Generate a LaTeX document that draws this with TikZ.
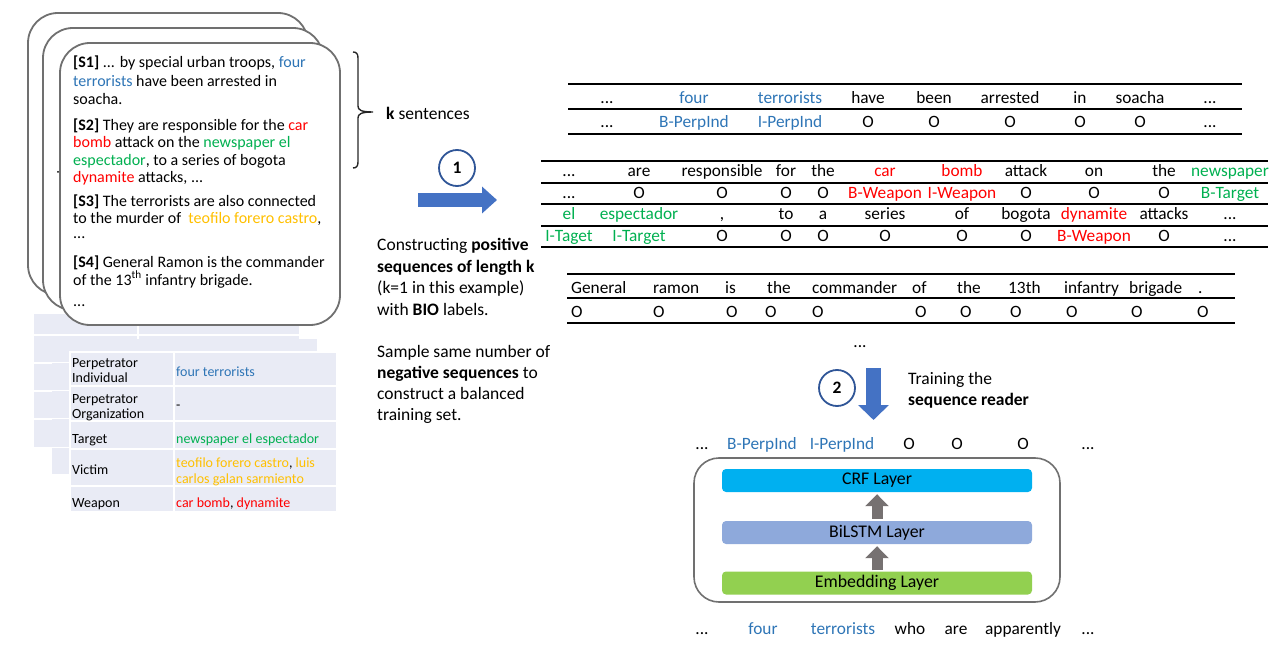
\documentclass[tikz,border=0pt]{standalone}
\usepackage{fontspec}
\setmainfont{Carlito}
\usetikzlibrary{arrows.meta}
\definecolor{tblue}{RGB}{46,117,182}
\definecolor{tred}{RGB}{255,0,0}
\definecolor{tgreen}{RGB}{0,176,80}
\definecolor{torange}{RGB}{255,192,0}
\definecolor{cellfill}{RGB}{233,235,245}
\definecolor{arrowblue}{RGB}{68,114,196}
\definecolor{circblue}{RGB}{47,85,151}
\definecolor{boxgray}{RGB}{112,112,112}
\definecolor{crfcol}{RGB}{0,176,240}
\definecolor{lstmcol}{RGB}{142,169,219}
\definecolor{embcol}{RGB}{146,208,80}
\definecolor{garrow}{RGB}{118,113,113}
\newcommand{\myblue}[1]{\textcolor{tblue}{#1}}
\newcommand{\myred}[1]{\textcolor{tred}{#1}}
\newcommand{\mygreen}[1]{\textcolor{tgreen}{#1}}
\newcommand{\myorange}[1]{\textcolor{torange}{#1}}
\newcommand{\tdots}{...}
\begin{document}
\begin{tikzpicture}[x=1pt,y=-1pt,
 doctext/.style={anchor=base west, inner sep=0pt, font=\fontsize{16}{18}\selectfont},
 tabtext/.style={anchor=base west, inner sep=0pt, font=\fontsize{14}{16}\selectfont},
 seqword/.style={anchor=base, inner sep=0pt, font=\fontsize{17.3}{20}\selectfont},
 seqleft/.style={anchor=base west, inner sep=0pt, font=\fontsize{17.3}{20}\selectfont},
 desc/.style={anchor=base west, inner sep=0pt, font=\fontsize{17.5}{21}\selectfont},
 thickrule/.style={line width=2.8pt},
 thinrule/.style={line width=1.2pt},
 docbox/.style={draw=boxgray, line width=1.8pt, fill=white, rounded corners=30pt},
 layerbox/.style={rounded corners=4pt, minimum width=310pt, minimum height=23pt, inner sep=0pt, font=\fontsize{17.8}{20}\selectfont},
 stepnum/.style={circle, draw=circblue, line width=1.8pt, fill=white, minimum size=36pt, inner sep=0pt, font=\bfseries\fontsize{17.5}{20}\selectfont},
 grayarrow/.style={draw=garrow, line width=11pt, -{Triangle[length=12pt,width=23pt]}, garrow},
]
\useasboundingbox (0,0) rectangle (1277,663);

% ---------- stacked tables (back to front)
\foreach \ya/\yb in {313/335,335/363,363/391,391/419,419/448}
  \foreach \xa/\xb in {33/138,138/300}
    \fill[cellfill] (\xa+1,\ya+1) rectangle (\xb-1,\yb-1);
\foreach \ya/\yb in {338/362,362/390,390/418,418/447,447/475}
  \foreach \xa/\xb in {51/156,156/318}
    \fill[cellfill] (\xa+1,\ya+1) rectangle (\xb-1,\yb-1);
\fill[white] (69,351) rectangle (338,513);
\foreach \ya/\yb in {352/386,386/421,421/449,449/486,486/512}
  \foreach \xa/\xb in {70/174,174/337}
    \fill[cellfill] (\xa+1,\ya+1) rectangle (\xb-1,\yb-1);

\node[tabtext] (p1a) at (72,367) {Perpetrator};
\node[tabtext] (p1b) at (72,382) {Individual};
\node[tabtext] (v1) at (176,376) {\myblue{four terrorists}};
\node[tabtext] (p2a) at (72,403) {Perpetrator};
\node[tabtext] (p2b) at (72,418) {Organization};
\node[tabtext] (v2) at (176,409) {-};
\node[tabtext] (p3) at (72,443) {Target};
\node[tabtext] (v3) at (176,443) {\mygreen{newspaper el espectador}};
\node[tabtext] (p4) at (72,474) {Victim};
\node[tabtext] (v4a) at (176,467) {\myorange{teofilo forero castro}, \myorange{luis}};
\node[tabtext] (v4b) at (176,483) {\myorange{carlos galan sarmiento}};
\node[tabtext] (p5) at (72,507) {Weapon};
\node[tabtext] (v5) at (176,507) {\myred{car bomb}, \myred{dynamite}};

% ---------- stacked documents
\draw[docbox] (28,13) rectangle (308,295);
\draw[docbox] (43,28) rectangle (323,310);
\fill[black] (58,172) circle (1pt);
\draw[docbox] (60,43) rectangle (340,325);

\node[doctext] (d1) at (73,68) {\textbf{[S1]} \tdots{} by special urban troops, \myblue{four}};
\node[doctext] (d2) at (73,87) {\myblue{terrorists} have been arrested in};
\node[doctext] (d3) at (73,105) {soacha.};
\node[doctext] (d4) at (73,131) {\textbf{[S2]} They are responsible for the \myred{car}};
\node[doctext] (d5) at (73,148) {\myred{bomb} attack on the \mygreen{newspaper el}};
\node[doctext] (d6) at (73,166) {\mygreen{espectador}, to a series of bogota};
\node[doctext] (d7) at (73,183) {\myred{dynamite} attacks, \tdots};
\node[doctext] (d8) at (73,207) {\textbf{[S3]} The terrorists are also connected};
\node[doctext] (d9) at (73,224) {to the murder of\ \ \myorange{teofilo forero castro},};
\node[doctext] (d10) at (73,239) {\tdots};
\node[doctext] (d11) at (73,267) {\textbf{[S4]} General Ramon is the commander};
\node[doctext] (d12) at (73,285) {of the 13\textsuperscript{th} infantry brigade.};
\node[doctext] (d13) at (73,306) {\tdots};

% ---------- brace
\draw[line width=1.4pt, black!85] (353,52) .. controls (356.5,52) and (358,54) .. (358,58)
  -- (358,106) .. controls (358,110) and (361,112) .. (373,112)
  .. controls (361,112) and (358,114) .. (358,118)
  -- (358,162) .. controls (358,166) and (356.5,168) .. (353,168);
\node[desc] (ksent) at (386,120) {\textbf{k} sentences};

% ---------- step 1
\node[stepnum] (c1) at (457,168) {1};
\coordinate (a1s) at (418,200);
\coordinate (a1e) at (497,200);
\draw[arrowblue, line width=14pt, -{Triangle[length=15pt,width=26pt]}] (a1s) -- (a1e);

\node[desc] (m1) at (377,251) {Constructing \textbf{positive}};
\node[desc] (m2) at (377,272) {\textbf{sequences of length k}};
\node[desc] (m3) at (377,293) {(k=1 in this example)};
\node[desc] (m4) at (377,315) {with \textbf{BIO} labels.};
\node[desc] (m5) at (377,357) {Sample same number of};
\node[desc] (m6) at (377,378) {\textbf{negative sequences} to};
\node[desc] (m7) at (377,399) {construct a balanced};
\node[desc] (m8) at (377,420) {training set.};

% ---------- table 1
\draw[thickrule] (568,84) -- (1242,84);
\draw[thinrule] (568,109) -- (1242,109);
\draw[thickrule] (568,134) -- (1242,134);
\foreach \x/\t [count=\i] in {607/\tdots, 694/\myblue{four}, 790/\myblue{terrorists}, 868/have, 934/been, 1010/arrested, 1080/in, 1140/soacha, 1210/\tdots}
  \node[seqword] (ta\i) at (\x,104) {\t};
\foreach \x/\t [count=\i] in {607/\tdots, 694/\myblue{B-PerpInd}, 790/\myblue{I-PerpInd}, 868/O, 934/O, 1010/O, 1080/O, 1140/O, 1210/\tdots}
  \node[seqword] (tb\i) at (\x,128) {\t};

% ---------- table 2
\draw[thickrule] (541,161) -- (1268,161);
\draw[thinrule] (541,183) -- (1268,183);
\draw[line width=2pt] (541,204) -- (1268,204);
\draw[thinrule] (541,226) -- (1268,226);
\draw[thickrule] (541,247) -- (1268,247);
\foreach \x/\t [count=\i] in {569/\tdots, 639/are, 722/responsible, 786/for, 823/the, 885/\myred{car}, 962/\myred{bomb}, 1026/attack, 1094/on, 1164/the, 1230/\mygreen{newspaper}}
  \node[seqword] (ua\i) at (\x,177) {\t};
\foreach \x/\t [count=\i] in {569/\tdots, 639/O, 722/O, 786/O, 823/O, 885/\myred{B-Weapon}, 962/\myred{I-Weapon}, 1026/O, 1094/O, 1164/O, 1230/\mygreen{B-Target}}
  \node[seqword] (ub\i) at (\x,199) {\t};
\foreach \x/\t [count=\i] in {569/\mygreen{el}, 639/\mygreen{espectador}, 722/{,}, 786/to, 823/a, 885/series, 962/of, 1026/bogota, 1094/\myred{dynamite}, 1164/attacks, 1230/\tdots}
  \node[seqword] (uc\i) at (\x,220) {\t};
\foreach \x/\t [count=\i] in {569/\mygreen{I-Taget}, 639/\mygreen{I-Target}, 722/O, 786/O, 823/O, 885/O, 962/O, 1026/O, 1094/\myred{B-Weapon}, 1164/O, 1230/\tdots}
  \node[seqword] (ud\i) at (\x,242) {\t};

% ---------- table 3
\draw[thickrule] (567,274) -- (1235,274);
\draw[thinrule] (567,298) -- (1235,298);
\draw[thickrule] (567,323) -- (1235,323);
\foreach \x/\t [count=\i] in {571/General, 653/ramon, 725/is, 767/the, 812/commander, 912/of, 957/the, 1008/13th, 1064/infantry, 1129/brigade, 1198/.}
  \node[seqleft] (va\i) at (\x,293) {\t};
\foreach \x/\t [count=\i] in {571/O, 653/O, 726/O, 765/O, 812/O, 915/O, 960/O, 1010/O, 1066/O, 1131/O, 1197/O}
  \node[seqleft] (vb\i) at (\x,317) {\t};
\node[seqword] (more) at (860,347) {\tdots};

% ---------- step 2
\coordinate (a2s) at (873.5,368);
\coordinate (a2e) at (873.5,420);
\draw[arrowblue, line width=15pt, -{Triangle[length=15pt,width=30pt]}] (a2s) -- (a2e);
\node[stepnum] (c2) at (837,388) {2};
\node[desc] (tr1) at (908,384) {Training the};
\node[desc] (tr2) at (908,405) {\textbf{sequence reader}};

% ---------- model
\foreach \x/\t [count=\i] in {702/\tdots, 762/\myblue{B-PerpInd}, 842/\myblue{I-PerpInd}, 909/O, 957/O, 1023/O, 1088/\tdots}
  \node[seqword] (la\i) at (\x,449) {\t};
\node[draw=boxgray, line width=1.6pt, rounded corners=25pt, minimum width=366pt, minimum height=144pt, inner sep=0pt] (model) at (877,530) {};
\node[layerbox, fill=crfcol] (crf) at (877,480.5) {CRF Layer};
\node[layerbox, fill=lstmcol] (lstm) at (877,532.5) {BiLSTM Layer};
\node[layerbox, fill=embcol] (emb) at (877,583) {Embedding Layer};
\draw[grayarrow, shorten <=1pt, shorten >=2pt] (emb.north) -- (lstm.south);
\draw[grayarrow, shorten <=2pt, shorten >=2pt] (lstm.north) -- (crf.south);
\foreach \x/\t [count=\i] in {702/\tdots, 763/\myblue{four}, 843/\myblue{terrorists}, 910/who, 956/are, 1023/apparently, 1088/\tdots}
  \node[seqword] (lb\i) at (\x,634) {\t};
\end{tikzpicture}
\end{document}
